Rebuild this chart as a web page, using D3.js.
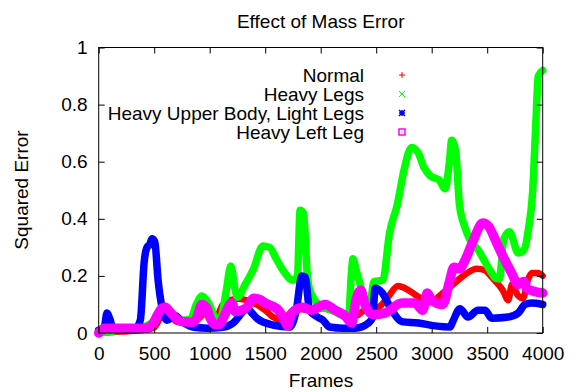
<!DOCTYPE html>
<html><head><meta charset="utf-8">
<script src="https://cdn.jsdelivr.net/npm/d3@7"></script>
<style>
html,body{margin:0;padding:0;background:#fff;}
svg text{font-family:"Liberation Sans",Arial,sans-serif;fill:#000;}
</style></head>
<body>
<svg id="chart" width="574" height="392"></svg>
<script>
const title = "Effect of Mass Error";
const xLabel = "Frames";
const yLabel = "Squared Error";
const xTicks = [0,500,1000,1500,2000,2500,3000,3500,4000];
const yTicks = [0,0.2,0.4,0.6,0.8,1];
const seriesNames = ["Normal","Heavy Legs","Heavy Upper Body, Light Legs","Heavy Left Leg"];
const seriesColors = ["#ff0000","#00ff00","#0000ff","#ff00ff"];

const normalFrames = [0,200,400,500,560,600,640,700,800,900,960,1050,1120,1190,1250,1380,1500,1570,1660,1724,1800,1900,2020,2130,2250,2310,2426,2516,2606,2696,2760,2867,2985,3100,3192,3300,3408,3480,3530,3640,3690,3723,3780,3822,3870,3903,3957,4000];
const normalValues = [0,0.005,0.01,0.02,0.06,0.09,0.07,0.04,0.035,0.05,0.07,0.05,0.1,0.115,0.12,0.108,0.08,0.056,0.045,0.07,0.085,0.08,0.087,0.075,0.065,0.06,0.087,0.09,0.126,0.165,0.157,0.13,0.108,0.14,0.17,0.205,0.225,0.22,0.2,0.15,0.115,0.17,0.13,0.122,0.19,0.21,0.21,0.2];

const heavyLegsFrames = [0,200,400,520,600,660,750,830,880,930,990,1060,1100,1150,1190,1230,1250,1320,1390,1480,1540,1600,1660,1750,1790,1815,1845,1880,1910,2020,2100,2200,2250,2275,2290,2320,2440,2480,2560,2620,2690,2750,2820,2880,2930,2990,3070,3120,3160,3180,3215,3250,3300,3340,3420,3510,3590,3610,3650,3700,3780,3830,3870,3910,3940,3960,4000];
const heavyLegsValues = [0,0.01,0.02,0.05,0.09,0.06,0.045,0.05,0.1,0.13,0.105,0.05,0.055,0.15,0.235,0.15,0.125,0.17,0.22,0.305,0.3,0.26,0.22,0.185,0.2,0.43,0.42,0.2,0.14,0.09,0.08,0.06,0.05,0.2,0.26,0.22,0.09,0.18,0.185,0.35,0.45,0.57,0.65,0.63,0.58,0.55,0.535,0.505,0.6,0.675,0.64,0.45,0.37,0.33,0.29,0.23,0.19,0.19,0.33,0.355,0.28,0.29,0.36,0.5,0.75,0.9,0.92];

const heavyUpperFrames = [0,50,75,100,130,200,330,375,410,435,460,480,505,535,570,615,690,750,860,980,1120,1210,1340,1380,1430,1570,1720,1780,1830,1860,1900,1970,2020,2080,2200,2310,2430,2470,2490,2550,2640,2730,2880,3030,3165,3190,3255,3327,3417,3480,3540,3690,3780,3840,3900,4000];
const heavyUpperValues = [0.01,0.02,0.07,0.05,0.015,0.01,0.015,0.045,0.25,0.3,0.31,0.33,0.32,0.185,0.09,0.045,0.06,0.04,0.02,0.017,0.02,0.035,0.085,0.07,0.05,0.028,0.021,0.08,0.2,0.196,0.08,0.056,0.045,0.021,0.017,0.017,0.035,0.056,0.157,0.143,0.08,0.04,0.035,0.025,0.021,0.04,0.085,0.056,0.08,0.08,0.052,0.056,0.07,0.1,0.105,0.1];

const heavyLeftFrames = [0,50,300,420,480,530,570,600,640,700,750,850,880,930,970,1000,1050,1090,1130,1200,1230,1320,1400,1450,1500,1620,1680,1700,1740,1840,1920,2000,2040,2130,2220,2280,2320,2360,2400,2470,2580,2730,2850,2920,2960,3000,3100,3160,3200,3250,3300,3370,3460,3510,3580,3640,3720,3780,3830,3860,3930,4000];
const heavyLeftValues = [0,0.017,0.017,0.017,0.028,0.063,0.087,0.09,0.075,0.05,0.04,0.038,0.05,0.1,0.09,0.056,0.03,0.03,0.06,0.105,0.075,0.085,0.122,0.118,0.105,0.08,0.04,0.025,0.07,0.09,0.08,0.095,0.1,0.08,0.06,0.035,0.12,0.15,0.1,0.065,0.07,0.105,0.105,0.08,0.14,0.115,0.1,0.18,0.23,0.225,0.255,0.32,0.385,0.375,0.32,0.27,0.21,0.17,0.18,0.155,0.145,0.14];

const seriesFrames = [normalFrames, heavyLegsFrames, heavyUpperFrames, heavyLeftFrames];
const seriesValues = [normalValues, heavyLegsValues, heavyUpperValues, heavyLeftValues];
const seriesWidths = [6.5, 7.5, 7.5, 9.5];

const FS = 19;
const svg = d3.select("#chart");
const L = 98.7, R = 542.7, T = 47.5, B = 333;
const x = d3.scaleLinear().domain([0,4000]).range([L,R]);
const y = d3.scaleLinear().domain([0,1]).range([B,T]);

// series
const line = d3.line().x(d=>x(d[0])).y(d=>y(d[1])).curve(d3.curveMonotoneX);
seriesNames.forEach((name,i)=>{
  const pts = seriesFrames[i].map((f,j)=>[f, seriesValues[i][j]]);
  svg.append("path").datum(pts).attr("d", line)
    .attr("fill","none").attr("stroke", seriesColors[i])
    .attr("stroke-width", seriesWidths[i])
    .attr("stroke-linejoin","round").attr("stroke-linecap","round");
});

// border
svg.append("rect").attr("x",L).attr("y",T).attr("width",R-L).attr("height",B-T)
  .attr("fill","none").attr("stroke","#000").attr("stroke-width",1);

// axes
const fmt = d => d3.format("~g")(d);
const gx = svg.append("g").attr("transform",`translate(0,${B})`)
  .call(d3.axisBottom(x).tickValues(xTicks).tickSize(-6).tickPadding(13.5).tickFormat(fmt));
const gxt = svg.append("g").attr("transform",`translate(0,${T})`)
  .call(d3.axisTop(x).tickValues(xTicks).tickSize(-6).tickFormat(""));
const gy = svg.append("g").attr("transform",`translate(${L},0)`)
  .call(d3.axisLeft(y).tickValues(yTicks).tickSize(-6).tickPadding(11).tickFormat(fmt));
const gyr = svg.append("g").attr("transform",`translate(${R},0)`)
  .call(d3.axisRight(y).tickValues(yTicks).tickSize(-6).tickFormat(""));
[gx,gxt,gy,gyr].forEach(g=>{
  g.select(".domain").remove();
  g.selectAll(".tick line").attr("stroke","#000");
  g.selectAll("text").attr("font-size",FS).attr("font-family","Liberation Sans, Arial, sans-serif").attr("fill","#000");
});

// titles
svg.append("text").attr("x",320.7).attr("y",28).attr("text-anchor","middle").attr("font-size",FS).text(title);
svg.append("text").attr("x",321).attr("y",387).attr("text-anchor","middle").attr("font-size",FS).text(xLabel);
svg.append("text").attr("transform","translate(28,190) rotate(-90)").attr("text-anchor","middle").attr("font-size",FS).text(yLabel);

// legend
const legY0 = 75, legDY = 19, legTextX = 364, legMarkX = 402;
seriesNames.forEach((name,i)=>{
  const cy = legY0 + i*legDY;
  svg.append("text").attr("x",legTextX).attr("y",cy+6.5).attr("text-anchor","end").attr("font-size",FS).text(name);
  const g = svg.append("g").attr("transform",`translate(${legMarkX},${cy})`)
    .attr("stroke",seriesColors[i]).attr("fill","none").attr("stroke-width",1);
  const s = 3;
  if(i===0){ g.append("path").attr("d",`M${-s},0H${s}M0,${-s}V${s}`); }
  else if(i===1){ g.append("path").attr("d",`M${-s},${-s}L${s},${s}M${-s},${s}L${s},${-s}`); }
  else if(i===2){ g.append("path").attr("d",`M${-s},0H${s}M0,${-s}V${s}M${-s},${-s}L${s},${s}M${-s},${s}L${s},${-s}`).attr("stroke-width",1.5); }
  else { g.append("rect").attr("x",-s).attr("y",-s).attr("width",2*s).attr("height",2*s).attr("stroke-width",1.5);
         g.append("rect").attr("x",-0.5).attr("y",-0.5).attr("width",1).attr("height",1).attr("fill",seriesColors[i]).attr("stroke","none"); }
});
</script>
</body></html>
